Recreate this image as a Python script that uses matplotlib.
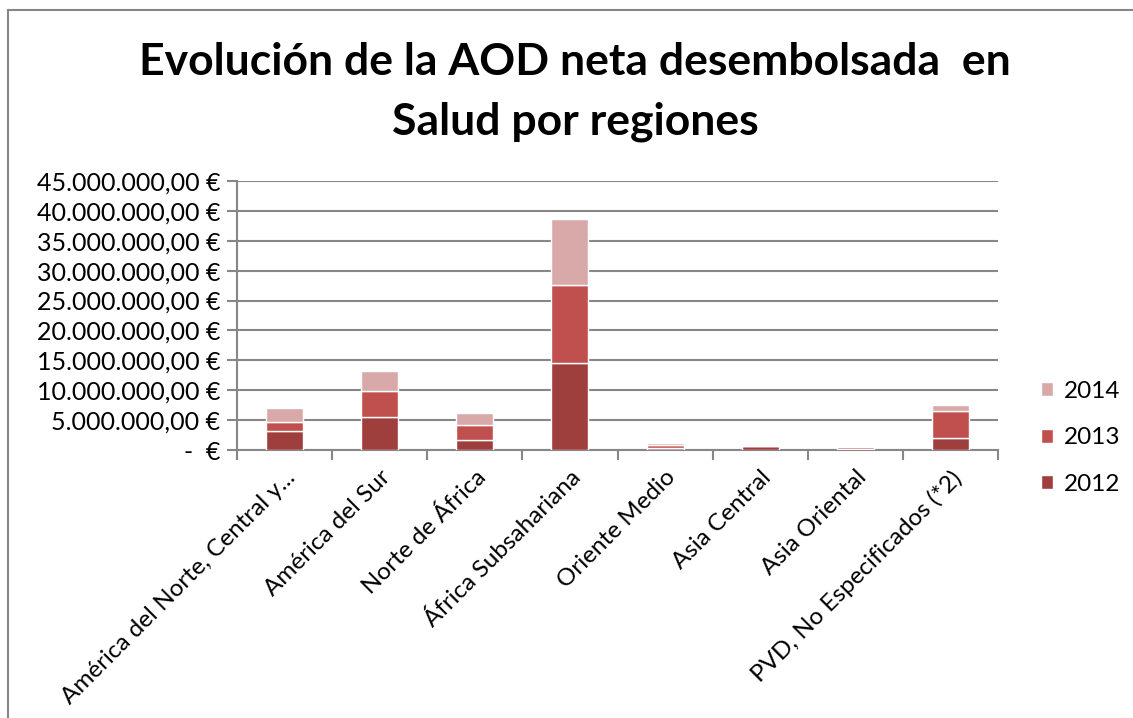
import numpy as np
import matplotlib
matplotlib.use("Agg")
from matplotlib import pyplot as plt
from matplotlib.lines import Line2D
from matplotlib.ticker import FuncFormatter, MultipleLocator
from matplotlib.transforms import ScaledTranslation

plt.rcParams['font.family'] = ['Lato', 'DejaVu Sans']

regiones = ["América del Norte, Central y...", "América del Sur", "Norte de África",
            "África Subsahariana", "Oriente Medio", "Asia Central", "Asia Oriental",
            "PVD, No Especificados (*2)"]
v2012 = [3250000, 5500000, 1600000, 14500000, 400000, 600000, 150000, 2000000]
v2013 = [1500000, 4300000, 2500000, 13100000, 450000, 50000, 300000, 4500000]
v2014 = [2350000, 3450000, 2050000, 11100000, 350000, 0, 250000, 1100000]
anios = ["2012", "2013", "2014"]
colores = ["#9E3F3E", "#C0504D", "#D9A8A8"]


def euros(v, pos):
    if v == 0:
        return "-  €"
    s = "{:,.2f}".format(v).replace(",", "X").replace(".", ",").replace("X", ".")
    return s + " €"


fig = plt.figure(figsize=(11.33, 7.18), dpi=100)
ax = fig.add_axes([237 / 1133, 1 - 450 / 718, (998 - 237) / 1133, 269 / 718])

x = np.arange(len(regiones))
base = np.zeros(len(regiones))
for serie, anio, col in zip([v2012, v2013, v2014], anios, colores):
    ax.bar(x, serie, width=0.39, bottom=base, color=col, edgecolor="white",
           linewidth=1.0, label=anio, zorder=3)
    base = base + np.array(serie)

ax.set_xlim(-0.5, len(regiones) - 0.5)
ax.set_ylim(0, 45000000)
ax.yaxis.set_major_locator(MultipleLocator(5000000))
ax.yaxis.set_major_formatter(FuncFormatter(euros))
ax.grid(axis="y", color="#878787", linewidth=1.5, zorder=0)
ax.set_axisbelow(True)

ax.set_xticks(x)
ax.set_xticklabels(regiones, rotation=45, ha="right", va="top",
                   rotation_mode="anchor", fontsize=17.5)
desplaza = ScaledTranslation(3 / 72, 0, fig.dpi_scale_trans)
for t in ax.get_xticklabels():
    t.set_transform(t.get_transform() + desplaza)
ax.set_xticks(np.arange(len(regiones) + 1) - 0.5, minor=True)
ax.tick_params(axis="x", which="major", length=0, pad=12)
ax.tick_params(axis="x", which="minor", length=7, width=1.5, color="#878787")
ax.tick_params(axis="y", length=7, width=1.5, color="#878787", labelsize=18, pad=5)

for lado in ["top", "right"]:
    ax.spines[lado].set_visible(False)
for lado in ["left", "bottom"]:
    ax.spines[lado].set_color("#878787")
    ax.spines[lado].set_linewidth(1.5)

# leyenda (orden inverso, 2014 arriba)
h, l = ax.get_legend_handles_labels()
fig.legend(h[::-1], l[::-1], loc="center left", bbox_to_anchor=(1041 / 1133, 1 - 438 / 718),
           frameon=False, fontsize=17.5, handlelength=0.5, handleheight=0.5,
           labelspacing=1.05, handletextpad=0.45, borderpad=0, borderaxespad=0)

fig.text(575 / 1133, 1 - 62 / 718, "Evolución de la AOD neta desembolsada  en",
         ha="center", va="center", fontsize=32, fontweight="bold")
fig.text(575 / 1133, 1 - 122 / 718, "Salud por regiones",
         ha="center", va="center", fontsize=32, fontweight="bold")

# marco del gráfico
fig.add_artist(Line2D([8 / 1133, 1], [1 - 10 / 718, 1 - 10 / 718], color="#878787", linewidth=1.5))
fig.add_artist(Line2D([8 / 1133, 8 / 1133], [0, 1 - 10 / 718], color="#878787", linewidth=1.5))

fig.savefig("out.png", dpi=100)
